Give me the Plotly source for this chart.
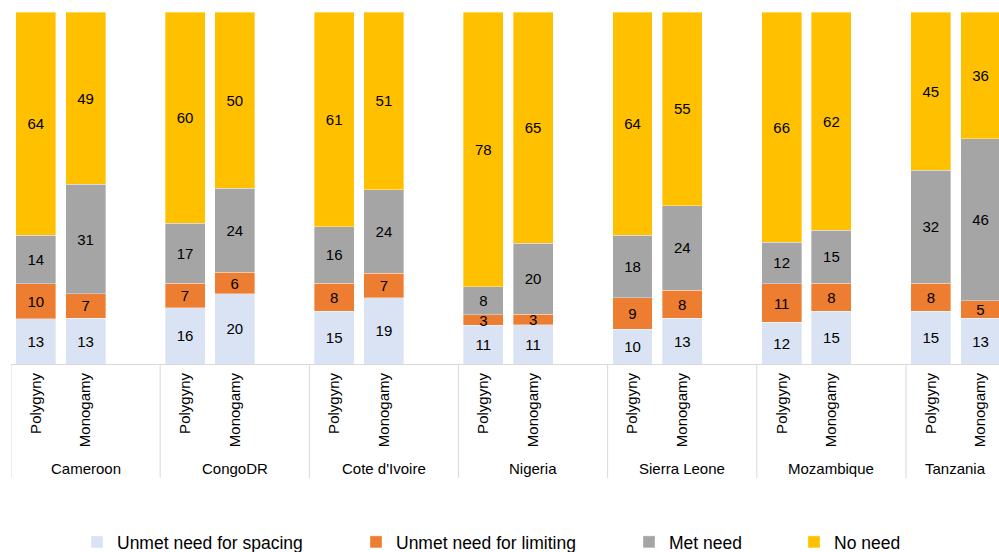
import plotly.graph_objects as go

countries = ["Cameroon", "CongoDR", "Cote d'Ivoire", "Nigeria", "Sierra Leone", "Mozambique", "Tanzania"]
unions = ["Polygyny", "Monogamy"]

series_names = ["Unmet need for spacing", "Unmet need for limiting", "Met need", "No need"]
unmet_spacing = [13, 13, 16, 20, 15, 19, 11, 11, 10, 13, 12, 15, 15, 13]
unmet_limiting = [10, 7, 7, 6, 8, 7, 3, 3, 9, 8, 11, 8, 8, 5]
met_need = [14, 31, 17, 24, 16, 24, 8, 20, 18, 24, 12, 15, 32, 46]
no_need = [64, 49, 60, 50, 61, 51, 78, 65, 64, 55, 66, 62, 45, 36]

colors = ["#DAE3F3", "#ED7D31", "#A5A5A5", "#FFC000"]
FONT = "Liberation Sans, Arial, sans-serif"

W, H = 999, 552
ML, MT = 11, 12
PLOT_BOTTOM = 364
MB = H - PLOT_BOTTOM
PLOT_H = PLOT_BOTTOM - MT

# slot positions: 3 slots per country (2 bars + spacer)
xs, ticktext = [], []
for gi, c in enumerate(countries):
    for ui, u in enumerate(unions):
        xs.append(gi * 3 + ui)
        ticktext.append(u)

fig = go.Figure()
all_series = [unmet_spacing, unmet_limiting, met_need, no_need]
legend_ids = ["legend", "legend2", "legend3", "legend4"]
for name, vals, col, lid in zip(series_names, all_series, colors, legend_ids):
    fig.add_trace(go.Bar(
        x=xs, y=vals, name=name,
        marker=dict(color=col, line=dict(color="rgba(255,255,255,0.6)", width=0.6)),
        text=[str(v) for v in vals],
        textposition="inside", insidetextanchor="middle", textangle=0,
        constraintext="none",
        textfont=dict(family=FONT, size=15, color="#000000"),
        hoverinfo="skip",
        legend=lid,
    ))

# separators and country labels
shapes = []
annotations = []
n = len(countries)
for gi, c in enumerate(countries):
    left = gi * 3 - 0.5
    right = (gi + 1) * 3 - 0.5 if gi < n - 1 else gi * 3 + len(unions) - 0.5
    shapes.append(dict(type="line", xref="x", yref="paper", x0=left, x1=left,
                       y0=0, y1=-(478 - PLOT_BOTTOM) / PLOT_H,
                       line=dict(color="#D9D9D9", width=1)))
    annotations.append(dict(x=(left + right) / 2, xref="x", y=0, yref="paper",
                            yshift=-(468 - PLOT_BOTTOM), yanchor="middle", xanchor="center",
                            text=c, showarrow=False,
                            font=dict(family=FONT, size=15, color="#000000")))

plot_w = W - ML
slot_px = 49.72
x_right = -0.5 + plot_w / slot_px

legend_text_x = [117, 396, 669, 834]
legend_layouts = {}
for lid, tx in zip(legend_ids, legend_text_x):
    legend_layouts[lid] = dict(
        x=(tx - 40) / W, xref="container", xanchor="left",
        y=1 - 542 / H, yref="container", yanchor="middle",
        orientation="h", bgcolor="rgba(0,0,0,0)",
        font=dict(family=FONT, size=17.5, color="#000000"),
        itemclick=False, itemdoubleclick=False,
    )

fig.update_layout(
    width=W, height=H,
    margin=dict(l=ML, r=0, t=MT, b=MB, autoexpand=False),
    barmode="stack", barnorm="percent", bargap=0.196,
    plot_bgcolor="white", paper_bgcolor="white",
    showlegend=True,
    xaxis=dict(range=[-0.5, x_right], tickvals=xs, ticktext=ticktext, tickangle=-90,
               showgrid=False, zeroline=False, showline=True, linecolor="#D9D9D9", linewidth=1,
               ticks="", ticklabelstandoff=2,
               tickfont=dict(family=FONT, size=15, color="#000000")),
    yaxis=dict(range=[0, 100], showgrid=False, zeroline=False, showline=False,
               showticklabels=False, ticks=""),
    shapes=shapes,
    annotations=annotations,
    **legend_layouts,
)

fig.write_html(
    "out.html",
    config={"displayModeBar": False, "staticPlot": False},
    post_script="document.body.style.margin='0';document.body.style.padding='0';"
                "document.documentElement.style.overflow='hidden';",
)
